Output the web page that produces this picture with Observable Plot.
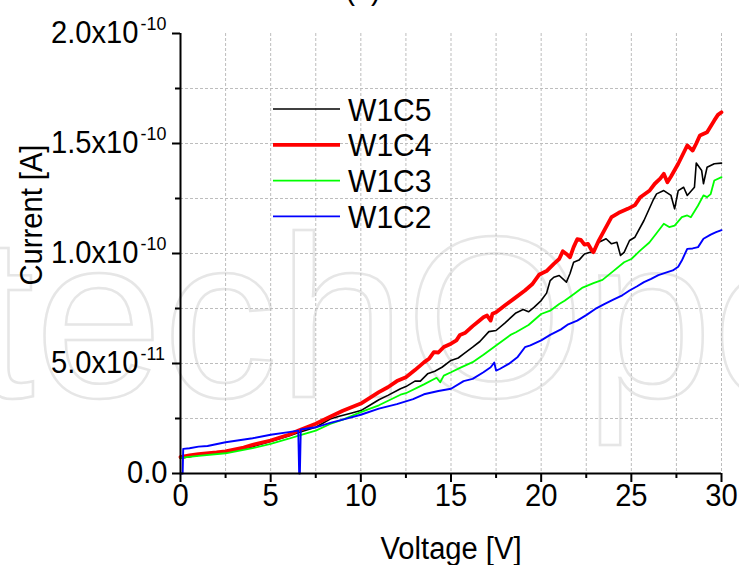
<!DOCTYPE html>
<html><head><meta charset="utf-8">
<script src="https://cdn.jsdelivr.net/npm/d3@7"></script>
<script src="https://cdn.jsdelivr.net/npm/@observablehq/plot@0.6"></script>
<style>html,body{margin:0;padding:0;background:#fff}svg{display:block}</style>
</head><body><div id="chart"></div>
<script>
// ---- data (current in units of 1e-12 A, voltage in V) ----
const seriesNames = ["W1C5", "W1C4", "W1C3", "W1C2"];
const seriesColors = ["#000000", "#ff0000", "#00ff00", "#0000ff"];
const seriesWidths = [1.6, 3.8, 1.8, 1.9];

const w1c5V = [0,1,2,3,4,5,6,6.6,7.5,8.3,8.8,9.5,10,10.5,11,11.5,12.2,12.5,13,13.3,13.7,14.1,14.5,15,15.4,15.7,16.2,16.6,17.1,17.5,18,18.6,19,19.3,19.6,20,20.3,20.5,20.7,21,21.4,21.6,21.8,22.1,22.4,22.9,23.2,23.6,23.9,24.2,24.4,24.6,24.9,25.2,25.7,26.2,26.4,26.8,27.2,27.4,27.6,27.9,28.1,28.5,28.6,28.9,29.0,29.2,29.6,30];
const w1c5I = [7.0,8.3,9.3,10.5,12.2,14.5,17,18.8,21,24.8,26,27.5,28.6,31,33.5,35.5,38.5,39.5,42,42,45.3,46.5,48.3,51.4,52.5,54.4,57.4,60,64.5,65,68.5,73,74.5,73.5,75.5,78.6,82,87.7,89.2,90,87,90.9,96,97,99.8,101,105.1,106.7,104.4,105.1,99.1,100.5,105.9,107.4,115,124.1,127.1,128.6,126.4,120.3,128.6,130.1,126.4,130.1,141.1,137.7,131.7,139.2,140.8,141.1];

const w1c4V = [0,0.5,1,2,2.5,3.5,4,5,6,6.55,7.5,8.3,9,10,11,11.5,12,12.5,13,13.5,13.8,14.05,14.3,14.6,15,15.3,15.5,15.8,16.2,16.5,16.8,17.0,17.2,17.3,17.5,18,18.5,19.1,19.5,19.9,20.3,20.7,21,21.2,21.4,21.6,21.8,22,22.2,22.4,22.6,22.8,22.9,23.2,23.5,23.9,24.3,24.8,25.2,25.5,26,26.3,26.6,26.8,27,27.2,27.6,28.1,28.4,28.6,28.8,29.2,29.6,29.8,30];
const w1c4I = [7.4,8.2,8.8,9.6,10.1,11.8,13,15,17.6,19.5,22.6,25.8,28.5,31.8,37,39.2,42,43.8,47,50.5,52.3,55.2,55,57.5,59,60.5,63,64,67,69,71,71.8,69.5,72.6,73.3,76.5,79.5,83.2,86,90.5,92,95.3,97.5,101,99.8,98.3,102.9,106.5,106.2,104,104.4,101.5,100.6,106,110.5,116.5,118.5,120.3,122,125.6,128.5,131.7,134,136.2,132.4,135,140.8,149.1,146.8,150,153.6,155.1,160.5,163,164.2];

const w1c3V = [0,1,2.5,4,5,6,6.6,7.5,8.3,9,10,11,12.2,12.5,13.5,14.2,14.4,14.6,15,15.5,16.2,16.8,17.5,18.3,18.6,19.3,20,20.5,21,21.3,21.8,22.3,22.9,23.4,24,24.6,25,25.5,26,26.3,26.8,27.1,27.4,27.8,28.1,28.3,28.7,29.0,29.2,29.4,29.6,30];
const w1c3I = [7.1,8,9.2,11.5,13.5,15.8,17.3,19.5,22.5,24.5,27.9,31,35.8,36.5,40.5,43.5,41.5,44.5,46,48,50.6,54,58.2,63,64.2,67.5,72.5,74,77,78.5,81.5,84.5,86.5,88,92,96,97.5,101.4,105,108.2,113.5,112,112.7,116.5,117.3,116.5,121.8,126.4,125.6,127,133.2,134.7];

const w1c2V = [0,0.12,0.15,0.5,1,1.5,2.5,4,5,6,6.53,6.58,6.62,6.67,7.5,8.3,9,10,11,12,12.9,13.5,14.3,15,15.7,16.2,16.8,17.2,17.4,17.5,17.7,18.2,18.7,19.1,19.4,20,20.5,21.1,21.5,22,22.5,23,23.5,24,24.5,24.9,25.3,25.7,26.1,26.5,27,27.3,27.6,27.8,28.1,28.4,28.7,29,29.4,29.7,30];
const w1c2I = [0,0,11.2,11.5,12.2,12.5,14.2,16,17.6,18.8,19.5,0,0,20,21,23,24.5,26.7,29.5,31.5,33.8,36,37.5,38.5,42,43,46,48.3,50.4,46.8,47.5,49.8,53,57.4,58.2,60.5,63,65.5,67.8,69.5,72,74.8,77,79,81,83.2,85,87,88.5,90.2,91.5,92.3,94,96.8,102.1,102.3,102.9,106.7,108.6,109.7,110.6];

const xTicks = [0, 5, 10, 15, 20, 25, 30];
const xMinor = [2.5, 7.5, 12.5, 17.5, 22.5, 27.5];
const xGrid = [2.5, 5, 7.5, 10, 12.5, 15, 17.5, 20, 22.5, 25, 27.5, 30];
const yTicks = [0, 50, 100, 150, 200];
const yMinor = [25, 75, 125, 175];
const yGrid = [25, 50, 75, 100, 125, 150, 175];
const yTickMain = ["0.0", "5.0x10", "1.0x10", "1.5x10", "2.0x10"];
const yTickSup = ["", "-11", "-10", "-10", "-10"];
const xTitle = "Voltage [V]";
const yTitle = "Current [A]";
const panelTitle = "(b)";
const watermark = "IntechOpen";

// ---- build tables ----
const seriesV = [w1c5V, w1c4V, w1c3V, w1c2V];
const seriesI = [w1c5I, w1c4I, w1c3I, w1c2I];
const tables = seriesNames.map((name, k) => seriesV[k].map((v, j) => ({name, v, i: seriesI[k][j]})));
const yLabels = yTicks.map((t, j) => ({t, main: yTickMain[j], sup: yTickSup[j]}));

const FONT = "'Liberation Sans', Arial, sans-serif";
const gridStyle = {stroke: "#bdbdbd", strokeOpacity: 1, strokeWidth: 1, strokeDasharray: "3,2"};

const plot = Plot.plot({
  width: 739, height: 565,
  marginLeft: 180, marginRight: 18, marginTop: 33, marginBottom: 92,
  x: {domain: [0, 30]},
  y: {domain: [0, 200]},
  style: {fontFamily: FONT, background: "transparent", color: "#000"},
  marks: [
    Plot.gridX(xGrid, gridStyle),
    Plot.gridY(yGrid, gridStyle),
    ...tables.map((t, k) => Plot.line(t, {x: "v", y: "i", stroke: seriesColors[k], strokeWidth: seriesWidths[k], strokeLinejoin: "round"})),
    Plot.ruleX([0], {stroke: "#000", strokeWidth: 2}),
    Plot.ruleY([0], {stroke: "#000", strokeWidth: 2}),
    Plot.axisX(xTicks, {tickSize: 9, tickPadding: 1, fontSize: 31, label: null, strokeWidth: 2, tickFormat: d => String(d)}),
    Plot.axisX(xMinor, {tickSize: 5, label: null, strokeWidth: 2, tickFormat: () => ""}),
    Plot.axisY(yTicks, {tickSize: 8, label: null, strokeWidth: 2, tickFormat: () => ""}),
    Plot.axisY(yMinor, {tickSize: 5, label: null, strokeWidth: 2, tickFormat: () => ""}),
    Plot.text(yLabels, {filter: d => d.sup === "", y: "t", text: "main", frameAnchor: "left", textAnchor: "end", dx: -13, fontSize: 31}),
    Plot.text(yLabels, {filter: d => d.sup !== "", y: "t", text: "main", frameAnchor: "left", textAnchor: "end", dx: -42, fontSize: 31}),
    Plot.text(yLabels, {filter: d => d.sup !== "", y: "t", text: "sup", frameAnchor: "left", textAnchor: "start", lineAnchor: "bottom", dx: -40, dy: -4, fontSize: 19}),
    Plot.text([xTitle], {frameAnchor: "bottom", textAnchor: "middle", lineAnchor: "bottom", dy: 85, fontSize: 31})
  ]
});
document.getElementById("chart").appendChild(plot);

const svg = d3.select(plot);
// watermark (behind everything)
svg.insert("text", ":first-child")
  .attr("class", "wm")
  .attr("x", -221).attr("y", 397).attr("text-anchor", "start")
  .attr("font-family", FONT).attr("font-size", 230)
  .attr("fill", "none").attr("stroke", "#e6e6e6").attr("stroke-width", 2.5)
  .text(watermark);

// y-axis title
svg.append("text")
  .attr("transform", "translate(42,215) rotate(-90)")
  .attr("text-anchor", "middle")
  .attr("font-family", FONT).attr("font-size", 31)
  .text(yTitle);

// partial panel title, clipped at the top edge
svg.append("text")
  .attr("x", 363).attr("y", -1.5).attr("text-anchor", "middle")
  .attr("font-family", FONT).attr("font-size", 31)
  .text(panelTitle);

// legend
const leg = svg.append("g").attr("font-family", FONT).attr("font-size", 32).attr("text-anchor", "start");
seriesNames.forEach((name, k) => {
  const y = 109 + k * 35.8;
  leg.append("line").attr("x1", 273).attr("x2", 340).attr("y1", y).attr("y2", y)
    .attr("stroke", seriesColors[k]).attr("stroke-width", seriesWidths[k]);
  leg.append("text").attr("x", 348).attr("y", y).attr("dy", "0.36em").text(name);
});

// horizontally condensed lettering like the original
plot.querySelectorAll("text").forEach(t => {
  if (t.classList.contains("wm")) return;
  const L = t.getComputedTextLength();
  if (L > 0) {
    t.setAttribute("textLength", (L * 0.94).toFixed(2));
    t.setAttribute("lengthAdjust", "spacingAndGlyphs");
  }
});
</script>
</body></html>
